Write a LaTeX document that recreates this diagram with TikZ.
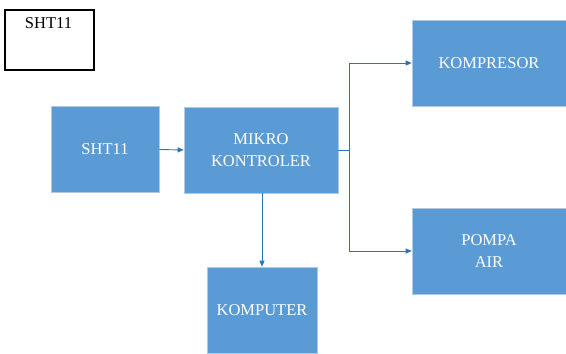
\documentclass[tikz,border=0pt]{standalone}
\usepackage{fontspec}
\setmainfont{Liberation Serif}
\usetikzlibrary{arrows.meta}
\definecolor{boxblue}{RGB}{91,155,213}
\definecolor{edgeblue}{RGB}{180,200,225}
\definecolor{linkblue}{RGB}{46,117,182}
\tikzset{
  blk/.style={rectangle, fill=boxblue, draw=edgeblue, line width=0.6pt,
    text=white, align=center, inner sep=0pt,
    font=\fontsize{16.5}{22}\selectfont},
  arr/.style={draw=linkblue, line width=0.9pt, -{Triangle[length=6pt,width=5pt]}},
  legend/.style={rectangle, draw=black, line width=1.3pt, inner sep=0pt,
    minimum width=89pt, minimum height=60pt},
}
\begin{document}
\begin{tikzpicture}[x=1pt,y=-1pt]
\useasboundingbox (0,0) rectangle (566,354);
\node[legend] (leg) at (49.5,40) {};
\node[anchor=base, font=\fontsize{16.5}{20}\selectfont] (legtext) at (48.5,28) {SHT11};
\node[blk, minimum width=108pt, minimum height=86pt] (sht) at (105,149.5) {SHT11};
\node[blk, minimum width=154pt, minimum height=86pt] (mikro) at (261,150) {MIKRO\\KONTROLER};
\node[blk, minimum width=154pt, minimum height=86pt] (komp) at (489,63) {KOMPRESOR};
\node[blk, minimum width=154pt, minimum height=86pt] (pompa) at (489,251) {POMPA\\AIR};
\node[blk, minimum width=110pt, minimum height=86pt] (komputer) at (262,310) {KOMPUTER};
\coordinate (split) at (349,150);
\draw[arr] (sht.east) -- (mikro.west);
\draw[draw=linkblue, line width=0.9pt] (mikro.east) -- (split);
\draw[arr] (split) |- (komp.west);
\draw[arr] (split) |- (pompa.west);
\draw[arr] (mikro.south -| komputer.north) -- (komputer.north);
\end{tikzpicture}
\end{document}
